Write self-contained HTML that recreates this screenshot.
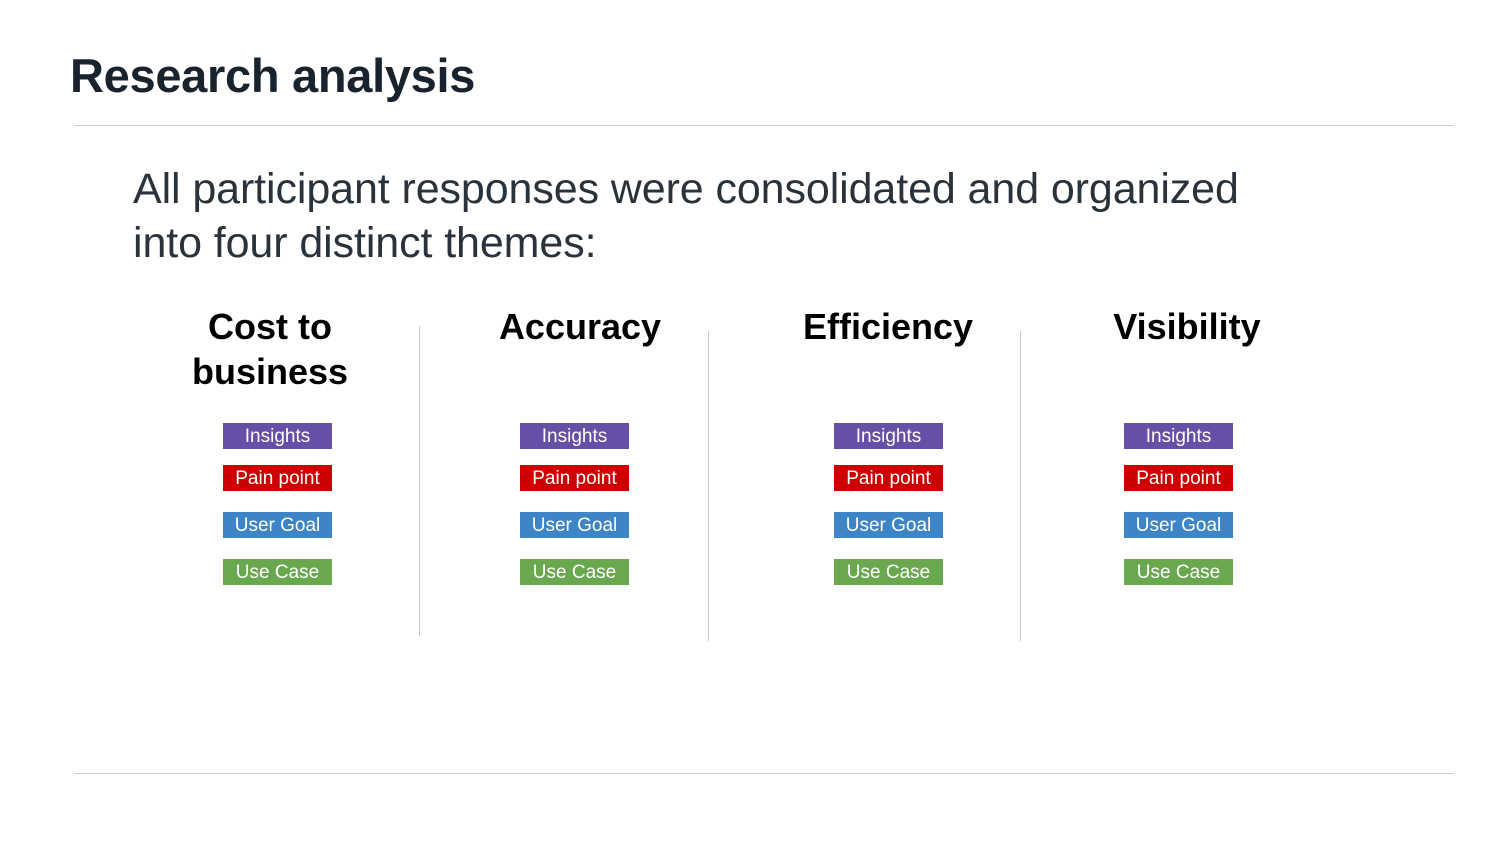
<!DOCTYPE html>
<html><head><style>
body{margin:0;width:1500px;height:844px;background:#fff;position:relative;overflow:hidden;font-family:"Liberation Sans",sans-serif}
.a{position:absolute}
.t{left:70px;top:48px;font-size:47px;font-weight:bold;color:#18232d;letter-spacing:-0.3px}
.hr{height:1px;background:#c8c8c8;left:75px;width:1378px}
.s{left:133px;top:162px;font-size:43px;line-height:54px;color:#2a333b;letter-spacing:-0.1px}
.h{font-size:36px;font-weight:bold;color:#000;text-align:center;width:300px;line-height:45px;top:304px}
.b{width:109px;height:26px;color:#fff;font-size:19px;line-height:28px;text-align:center}
.v{width:1px;background:#c8c8c8}
</style></head><body>
<div class="a t">Research analysis</div>
<div class="a hr" style="top:125px"></div>
<div class="a hr" style="top:773px"></div>
<div class="a s">All participant responses were consolidated and organized<br>into four distinct themes:</div>
<div class="a h" style="left:120px">Cost to<br>business</div>
<div class="a h" style="left:430px">Accuracy</div>
<div class="a h" style="left:738px">Efficiency</div>
<div class="a h" style="left:1037px">Visibility</div>
<div class="a v" style="left:419px;top:326px;height:310px"></div>
<div class="a v" style="left:708px;top:331px;height:310px"></div>
<div class="a v" style="left:1020px;top:331px;height:310px"></div>
<div id="c"></div>
<script>
var xs=[223,520,834,1124],ys=[423,465,512,559],c=["#674ea7","#cc0000","#3d85c6","#6aa84f"],l=["Insights","Pain point","User Goal","Use Case"],h="";
xs.forEach(function(x){ys.forEach(function(y,i){h+='<div class="a b" style="left:'+x+'px;top:'+y+'px;background:'+c[i]+'">'+l[i]+'</div>';});});
document.getElementById("c").innerHTML=h;
</script>
</body></html>
